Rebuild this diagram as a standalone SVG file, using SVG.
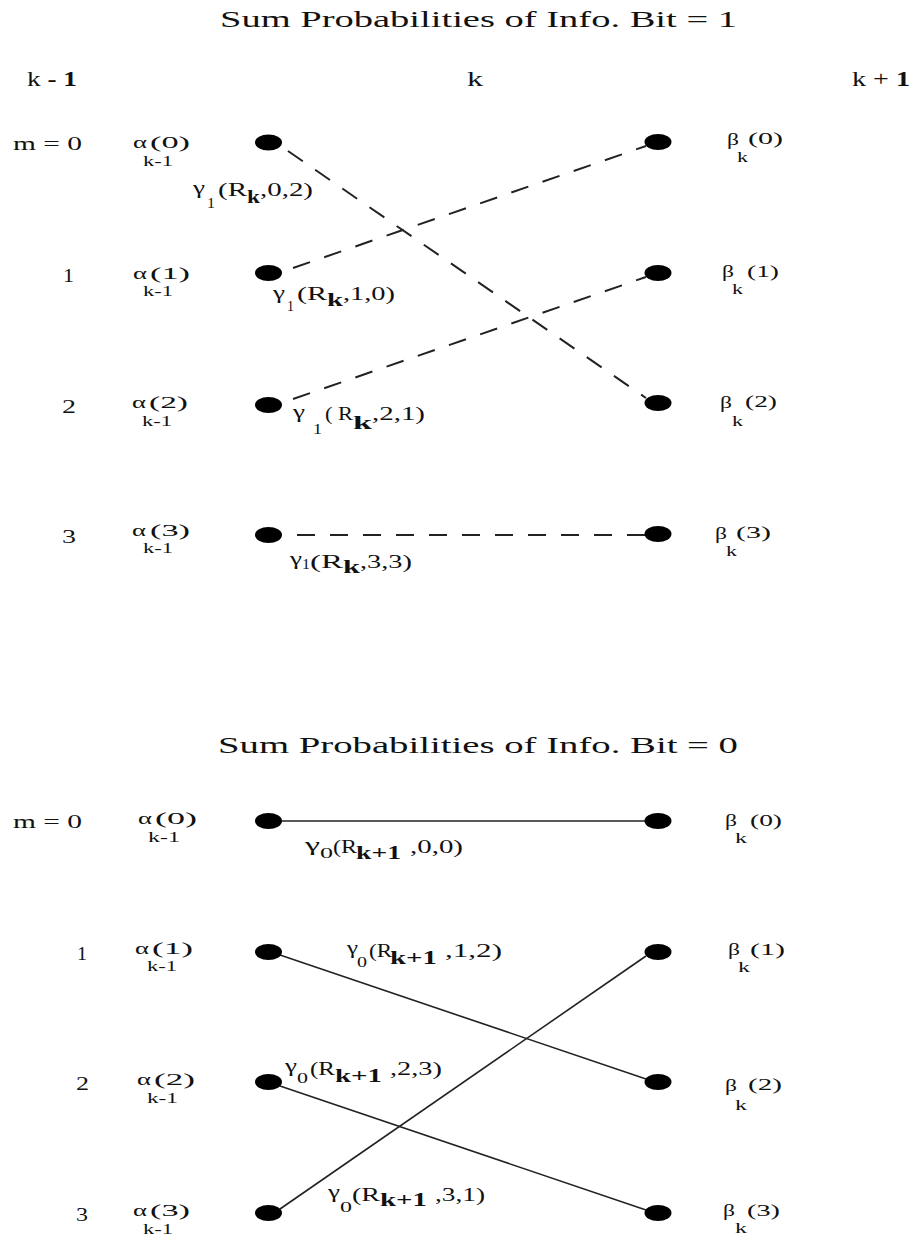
<svg xmlns="http://www.w3.org/2000/svg" width="913" height="1237" viewBox="0 0 913 1237">
<style>
text{font-family:"Liberation Serif","DejaVu Serif",serif;fill:#111;}
.tt{font-size:24px;}
.hd{font-size:20px;}
.rl{font-size:18px;}
.m{font-size:17px;}
.s{font-size:14px;}
.g{font-size:18px;}
.gs{font-size:15px;}
.gk{font-size:18px;font-weight:bold;}
.nd{fill:#000;}
.dash{stroke:#222;stroke-width:2;stroke-dasharray:18 15;fill:none;}
.sol{stroke:#222;stroke-width:1.6;fill:none;}
</style>
<rect width="913" height="1237" fill="#fff"/>

<g id="titles">
<text class="tt" x="220" y="27" textLength="517" lengthAdjust="spacingAndGlyphs">Sum Probabilities of Info. Bit = 1</text>
<text class="tt" x="218" y="753" textLength="520" lengthAdjust="spacingAndGlyphs">Sum Probabilities of Info. Bit = 0</text>
<text class="hd" x="27" y="86" textLength="50" lengthAdjust="spacingAndGlyphs">k <tspan font-weight="bold">- 1</tspan></text>
<text class="hd" x="467" y="86" textLength="16" lengthAdjust="spacingAndGlyphs">k</text>
<text class="hd" x="852" y="86" textLength="58" lengthAdjust="spacingAndGlyphs">k + <tspan font-weight="bold">1</tspan></text>
</g>

<g id="row-labels">
<text class="rl" x="13" y="150" textLength="69" lengthAdjust="spacingAndGlyphs">m = 0</text>
<text class="rl" x="63" y="282" textLength="11" lengthAdjust="spacingAndGlyphs">1</text>
<text class="rl" x="62" y="413" textLength="14" lengthAdjust="spacingAndGlyphs">2</text>
<text class="rl" x="62" y="543" textLength="14" lengthAdjust="spacingAndGlyphs">3</text>
<text class="rl" x="13" y="828" textLength="69" lengthAdjust="spacingAndGlyphs">m = 0</text>
<text class="rl" x="77" y="960" textLength="10" lengthAdjust="spacingAndGlyphs">1</text>
<text class="rl" x="76" y="1090" textLength="13" lengthAdjust="spacingAndGlyphs">2</text>
<text class="rl" x="76" y="1221" textLength="12" lengthAdjust="spacingAndGlyphs">3</text>
</g>

<g id="connectors">
<line class="dash" x1="288" y1="151" x2="646" y2="398"/>
<line class="dash" x1="293" y1="268" x2="646" y2="146"/>
<line class="dash" x1="293" y1="399" x2="646" y2="277"/>
<line class="dash" x1="297" y1="535" x2="645" y2="535"/>
<line class="sol" x1="280" y1="821" x2="646" y2="821"/>
<line class="sol" x1="280" y1="955" x2="646" y2="1079"/>
<line class="sol" x1="280" y1="1086" x2="646" y2="1210"/>
<line class="sol" x1="280" y1="1209" x2="646" y2="956"/>

<g id="label-g1-02">
<text class="g" x="193" y="194" textLength="12" lengthAdjust="spacingAndGlyphs">γ</text>
<text class="gs" x="207" y="208" textLength="8" lengthAdjust="spacingAndGlyphs">1</text>
<text class="g" x="218" y="196" textLength="29" lengthAdjust="spacingAndGlyphs">(R</text>
<text class="gk" x="247" y="203" textLength="13" lengthAdjust="spacingAndGlyphs">k</text>
<text class="g" x="260" y="196" textLength="53" lengthAdjust="spacingAndGlyphs">,0,2)</text>
</g>
<g id="label-g1-10">
<text class="g" x="273" y="299" textLength="12" lengthAdjust="spacingAndGlyphs">γ</text>
<text class="gs" x="287" y="311" textLength="7" lengthAdjust="spacingAndGlyphs">1</text>
<text class="g" x="297" y="300" textLength="30" lengthAdjust="spacingAndGlyphs">(R</text>
<text class="gk" x="327" y="306" textLength="16" lengthAdjust="spacingAndGlyphs">k</text>
<text class="g" x="343" y="300" textLength="52" lengthAdjust="spacingAndGlyphs">,1,0)</text>
</g>
<g id="label-g1-21">
<text class="g" x="293" y="418" textLength="12" lengthAdjust="spacingAndGlyphs">γ</text>
<text class="gs" x="313" y="434" textLength="9" lengthAdjust="spacingAndGlyphs">1</text>
<text class="g" x="325" y="420" textLength="28" lengthAdjust="spacingAndGlyphs">( R</text>
<text class="gk" x="353" y="429" textLength="19" lengthAdjust="spacingAndGlyphs">k</text>
<text class="g" x="372" y="420" textLength="53" lengthAdjust="spacingAndGlyphs">,2,1)</text>
</g>
<g id="label-g1-33">
<text class="g" x="290" y="565" textLength="12" lengthAdjust="spacingAndGlyphs">γ</text>
<text class="gs" x="302" y="569" textLength="8" lengthAdjust="spacingAndGlyphs">1</text>
<text class="g" x="310" y="568" textLength="33" lengthAdjust="spacingAndGlyphs">(R</text>
<text class="gk" x="343" y="573" textLength="17" lengthAdjust="spacingAndGlyphs">k</text>
<text class="g" x="360" y="568" textLength="52" lengthAdjust="spacingAndGlyphs">,3,3)</text>
</g>
<g id="label-g0-00">
<text class="g" x="305" y="851" textLength="15" lengthAdjust="spacingAndGlyphs">γ</text>
<text class="gs" x="320" y="858" textLength="13" lengthAdjust="spacingAndGlyphs">0</text>
<text class="g" x="333" y="853" textLength="24" lengthAdjust="spacingAndGlyphs">(R</text>
<text class="gk" x="356" y="859" textLength="45" lengthAdjust="spacingAndGlyphs">k+1</text>
<text class="g" x="410" y="853" textLength="53" lengthAdjust="spacingAndGlyphs">,0,0)</text>
</g>
<g id="label-g0-12">
<text class="g" x="347" y="954" textLength="11" lengthAdjust="spacingAndGlyphs">γ</text>
<text class="gs" x="357" y="967" textLength="10" lengthAdjust="spacingAndGlyphs">0</text>
<text class="g" x="369" y="957" textLength="23" lengthAdjust="spacingAndGlyphs">(R</text>
<text class="gk" x="390" y="964" textLength="47" lengthAdjust="spacingAndGlyphs">k+1</text>
<text class="g" x="445" y="957" textLength="57" lengthAdjust="spacingAndGlyphs">,1,2)</text>
</g>
<g id="label-g0-23">
<text class="g" x="285" y="1072" textLength="12" lengthAdjust="spacingAndGlyphs">γ</text>
<text class="gs" x="297" y="1083" textLength="11" lengthAdjust="spacingAndGlyphs">0</text>
<text class="g" x="310" y="1075" textLength="25" lengthAdjust="spacingAndGlyphs">(R</text>
<text class="gk" x="335" y="1082" textLength="47" lengthAdjust="spacingAndGlyphs">k+1</text>
<text class="g" x="390" y="1075" textLength="52" lengthAdjust="spacingAndGlyphs">,2,3)</text>
</g>
<g id="label-g0-31">
<text class="g" x="328" y="1198" textLength="12" lengthAdjust="spacingAndGlyphs">γ</text>
<text class="gs" x="340" y="1212" textLength="12" lengthAdjust="spacingAndGlyphs">0</text>
<text class="g" x="352" y="1201" textLength="28" lengthAdjust="spacingAndGlyphs">(R</text>
<text class="gk" x="380" y="1206" textLength="47" lengthAdjust="spacingAndGlyphs">k+1</text>
<text class="g" x="435" y="1201" textLength="50" lengthAdjust="spacingAndGlyphs">,3,1)</text>
</g>
</g>

<!-- Top section: info bit = 1 -->
<g id="top-alpha-0">
<ellipse class="nd" cx="268.5" cy="142.5" rx="13.5" ry="8"/>
<text class="m" x="133" y="148" textLength="14" lengthAdjust="spacingAndGlyphs">α</text>
<text class="m" x="150" y="148" textLength="40" lengthAdjust="spacingAndGlyphs">(0)</text>
<text class="s" x="143" y="166" textLength="30" lengthAdjust="spacingAndGlyphs">k-1</text>
</g>
<g id="top-alpha-1">
<ellipse class="nd" cx="268.5" cy="273" rx="13.5" ry="8"/>
<text class="m" x="133" y="279" textLength="14" lengthAdjust="spacingAndGlyphs">α</text>
<text class="m" x="150" y="279" textLength="40" lengthAdjust="spacingAndGlyphs">(1)</text>
<text class="s" x="143" y="296" textLength="30" lengthAdjust="spacingAndGlyphs">k-1</text>
</g>
<g id="top-alpha-2">
<ellipse class="nd" cx="268.5" cy="405" rx="13.5" ry="8"/>
<text class="m" x="132" y="408" textLength="14" lengthAdjust="spacingAndGlyphs">α</text>
<text class="m" x="149" y="408" textLength="39" lengthAdjust="spacingAndGlyphs">(2)</text>
<text class="s" x="142" y="426" textLength="30" lengthAdjust="spacingAndGlyphs">k-1</text>
</g>
<g id="top-alpha-3">
<ellipse class="nd" cx="268.5" cy="535" rx="13.5" ry="8"/>
<text class="m" x="132" y="536" textLength="14" lengthAdjust="spacingAndGlyphs">α</text>
<text class="m" x="150" y="536" textLength="40" lengthAdjust="spacingAndGlyphs">(3)</text>
<text class="s" x="143" y="553" textLength="30" lengthAdjust="spacingAndGlyphs">k-1</text>
</g>
<g id="top-beta-0">
<ellipse class="nd" cx="658" cy="142" rx="13.5" ry="8"/>
<text class="m" x="727" y="145" textLength="12" lengthAdjust="spacingAndGlyphs">β</text>
<text class="m" x="748" y="144" textLength="35" lengthAdjust="spacingAndGlyphs">(0)</text>
<text class="s" x="737" y="162" textLength="11" lengthAdjust="spacingAndGlyphs">k</text>
</g>
<g id="top-beta-1">
<ellipse class="nd" cx="658" cy="273" rx="13.5" ry="8"/>
<text class="m" x="722" y="277" textLength="12" lengthAdjust="spacingAndGlyphs">β</text>
<text class="m" x="747" y="277" textLength="32" lengthAdjust="spacingAndGlyphs">(1)</text>
<text class="s" x="732" y="294" textLength="11" lengthAdjust="spacingAndGlyphs">k</text>
</g>
<g id="top-beta-2">
<ellipse class="nd" cx="658" cy="403" rx="13.5" ry="8"/>
<text class="m" x="720" y="408" textLength="12" lengthAdjust="spacingAndGlyphs">β</text>
<text class="m" x="745" y="407" textLength="32" lengthAdjust="spacingAndGlyphs">(2)</text>
<text class="s" x="732" y="426" textLength="11" lengthAdjust="spacingAndGlyphs">k</text>
</g>
<g id="top-beta-3">
<ellipse class="nd" cx="658" cy="534" rx="13.5" ry="8"/>
<text class="m" x="715" y="539" textLength="12" lengthAdjust="spacingAndGlyphs">β</text>
<text class="m" x="736" y="538" textLength="35" lengthAdjust="spacingAndGlyphs">(3)</text>
<text class="s" x="726" y="556" textLength="11" lengthAdjust="spacingAndGlyphs">k</text>
</g>

<!-- Bottom section: info bit = 0 -->
<g id="bot-alpha-0">
<ellipse class="nd" cx="268.5" cy="821" rx="13.5" ry="8"/>
<text class="m" x="138" y="824" textLength="14" lengthAdjust="spacingAndGlyphs">α</text>
<text class="m" x="155" y="824" textLength="42" lengthAdjust="spacingAndGlyphs">(0)</text>
<text class="s" x="148" y="842" textLength="32" lengthAdjust="spacingAndGlyphs">k-1</text>
</g>
<g id="bot-alpha-1">
<ellipse class="nd" cx="268.5" cy="952" rx="13.5" ry="8"/>
<text class="m" x="135" y="954" textLength="14" lengthAdjust="spacingAndGlyphs">α</text>
<text class="m" x="152" y="954" textLength="41" lengthAdjust="spacingAndGlyphs">(1)</text>
<text class="s" x="147" y="971" textLength="30" lengthAdjust="spacingAndGlyphs">k-1</text>
</g>
<g id="bot-alpha-2">
<ellipse class="nd" cx="268.5" cy="1082" rx="13.5" ry="8"/>
<text class="m" x="137" y="1085" textLength="14" lengthAdjust="spacingAndGlyphs">α</text>
<text class="m" x="154" y="1085" textLength="41" lengthAdjust="spacingAndGlyphs">(2)</text>
<text class="s" x="147" y="1103" textLength="31" lengthAdjust="spacingAndGlyphs">k-1</text>
</g>
<g id="bot-alpha-3">
<ellipse class="nd" cx="268.5" cy="1213" rx="13.5" ry="8"/>
<text class="m" x="133" y="1216" textLength="14" lengthAdjust="spacingAndGlyphs">α</text>
<text class="m" x="150" y="1216" textLength="40" lengthAdjust="spacingAndGlyphs">(3)</text>
<text class="s" x="143" y="1234" textLength="30" lengthAdjust="spacingAndGlyphs">k-1</text>
</g>
<g id="bot-beta-0">
<ellipse class="nd" cx="658" cy="821" rx="13.5" ry="8"/>
<text class="m" x="725" y="826" textLength="12" lengthAdjust="spacingAndGlyphs">β</text>
<text class="m" x="750" y="826" textLength="32" lengthAdjust="spacingAndGlyphs">(0)</text>
<text class="s" x="735" y="843" textLength="12" lengthAdjust="spacingAndGlyphs">k</text>
</g>
<g id="bot-beta-1">
<ellipse class="nd" cx="658" cy="952" rx="13.5" ry="8"/>
<text class="m" x="728" y="955" textLength="12" lengthAdjust="spacingAndGlyphs">β</text>
<text class="m" x="750" y="955" textLength="35" lengthAdjust="spacingAndGlyphs">(1)</text>
<text class="s" x="738" y="972" textLength="12" lengthAdjust="spacingAndGlyphs">k</text>
</g>
<g id="bot-beta-2">
<ellipse class="nd" cx="658" cy="1082" rx="13.5" ry="8"/>
<text class="m" x="725" y="1091" textLength="12" lengthAdjust="spacingAndGlyphs">β</text>
<text class="m" x="748" y="1090" textLength="34" lengthAdjust="spacingAndGlyphs">(2)</text>
<text class="s" x="735" y="1110" textLength="12" lengthAdjust="spacingAndGlyphs">k</text>
</g>
<g id="bot-beta-3">
<ellipse class="nd" cx="658" cy="1213" rx="13.5" ry="8"/>
<text class="m" x="723" y="1216" textLength="12" lengthAdjust="spacingAndGlyphs">β</text>
<text class="m" x="747" y="1216" textLength="33" lengthAdjust="spacingAndGlyphs">(3)</text>
<text class="s" x="735" y="1233" textLength="12" lengthAdjust="spacingAndGlyphs">k</text>
</g>
</svg>
